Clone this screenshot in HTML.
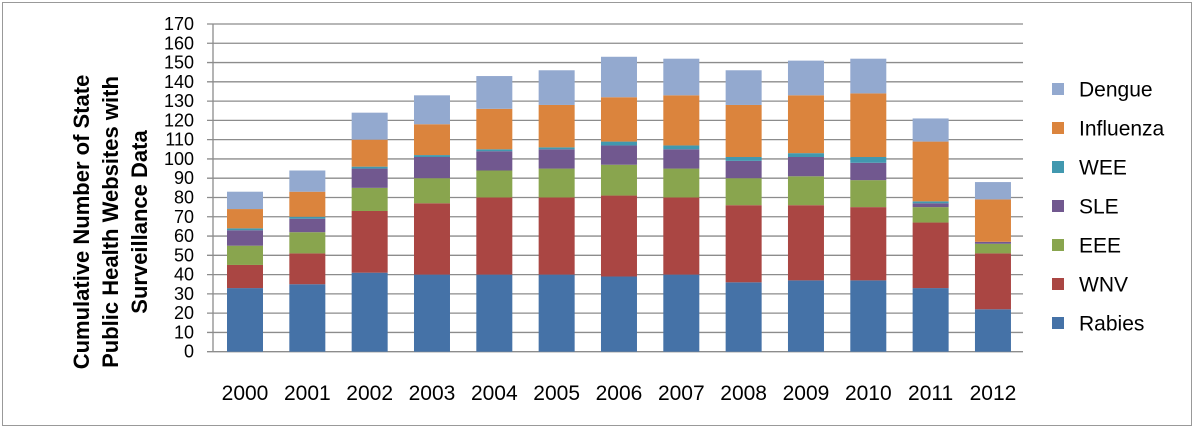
<!DOCTYPE html>
<html><head><meta charset="utf-8"><style>
body{margin:0;background:#fff;}
svg{display:block;font-family:"Liberation Sans",sans-serif;}
</style></head><body>
<svg id="chart" width="1195" height="429" viewBox="0 0 1195 429">
<rect x="2.5" y="2.5" width="1189" height="423" fill="#fff" stroke="#999" stroke-width="1"/>
<g id="grid"></g><g id="bars"></g><g id="axes"></g><g id="legend"></g>
<text transform="translate(111,222) rotate(-90)" text-anchor="middle" font-size="22" font-weight="bold" fill="#000">
<tspan x="0" dy="-22">Cumulative Number of State</tspan><tspan x="0" dy="29">Public Health Websites with</tspan><tspan x="0" dy="29">Surveillance Data</tspan></text>
</svg>
<script>
const years=["2000","2001","2002","2003","2004","2005","2006","2007","2008","2009","2010","2011","2012"];
const rabies=[33,35,41,40,40,40,39,40,36,37,37,33,22];
const wnv=[12,16,32,37,40,40,42,40,40,39,38,34,29];
const eee=[10,11,12,13,14,15,16,15,14,15,14,8,5];
const sle=[8,7,10,11,10,10,10,10,9,10,9,2,1];
const wee=[1,1,1,1,1,1,2,2,2,2,3,1,0];
const influenza=[10,13,14,16,21,22,23,26,27,30,33,31,22];
const dengue=[9,11,14,15,17,18,21,19,18,18,18,12,9];
const yTicks=[0,10,20,30,40,50,60,70,80,90,100,110,120,130,140,150,160,170];
const seriesNames=["Rabies","WNV","EEE","SLE","WEE","Influenza","Dengue"];
const seriesColors=["#4572a7","#aa4643","#89a54e","#71588f","#4198af","#db843d","#93a9cf"];
const seriesData=[rabies,wnv,eee,sle,wee,influenza,dengue];

const NS="http://www.w3.org/2000/svg";
const y0=351.7,y1=24,vmax=170,x0=213,x1=1023;
const Y=v=>y0-(y0-y1)*v/vmax;
const X=i=>245+i*62.33;
const bw=36;
function mk(tag,attrs,parent){const e=document.createElementNS(NS,tag);for(const k in attrs)e.setAttribute(k,attrs[k]);document.getElementById(parent).appendChild(e);return e;}
yTicks.forEach(t=>{
  const g=mk('line',{x1:207,x2:x1,y1:Y(t),y2:Y(t),stroke:'#8c8c8c','stroke-width':1.3},'grid');
  
  
  const l=mk('text',{x:194,y:Y(t)+6,'text-anchor':'end','font-size':18,fill:'#000'},'axes');
  l.textContent=t;
  
  
});
const ax=mk('line',{x1:x0,x2:x0,y1:y1,y2:y0,stroke:'#8c8c8c','stroke-width':1.3},'axes');


years.forEach((yr,i)=>{
  let cum=0;
  seriesData.forEach((s,k)=>{
    const v=s[i];if(v<=0)return;
    const r=mk('rect',{x:X(i)-bw/2,y:Y(cum+v),width:bw,height:Y(cum)-Y(cum+v),fill:seriesColors[k]},'bars');
    
    
    cum+=v;
  });
  const t=mk('text',{x:X(i),y:400,'text-anchor':'middle','font-size':21,fill:'#000'},'axes');
  t.textContent=yr;
  
  
});
for(let k=6;k>=0;k--){
  const idx=6-k;const cy=89+idx*39;
  const s=mk('rect',{x:1052,y:cy-6,width:12,height:12,fill:seriesColors[k]},'legend');
  
  
  const t=mk('text',{x:1079,y:cy+7.5,'font-size':21,fill:'#000'},'legend');
  t.textContent=seriesNames[k];
  
  
}
</script>
</body></html>
